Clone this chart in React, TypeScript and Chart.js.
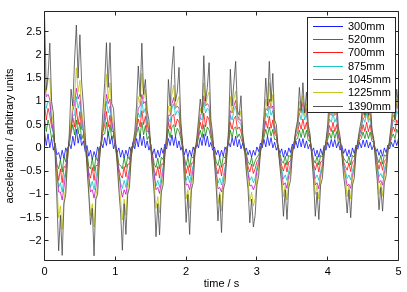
import { useEffect, useRef } from "react";
import { Chart, registerables } from "chart.js";

Chart.register(...registerables);

// sampling step of the recorded traces (seconds)
const SAMPLE_STEP = 0.025;

const SERIES_LABELS = ["300mm", "520mm", "700mm", "875mm", "1045mm", "1225mm", "1390mm"];
const SERIES_COLORS = [
  "rgb(0,0,255)",
  "rgb(0,128,0)",
  "rgb(255,0,0)",
  "rgb(0,191,191)",
  "rgb(191,0,191)",
  "rgb(191,191,0)",
  "rgb(64,64,64)",
];

const X_TICKS = [0, 1, 2, 3, 4, 5];
const Y_TICKS = [-2, -1.5, -1, -0.5, 0, 0.5, 1, 1.5, 2, 2.5];
const X_MIN = 0;
const X_MAX = 5;
const Y_MIN = -2.42;
const Y_MAX = 2.93;

const acc300 = [
  0.35, 0.05, 0.3, 0.0, 0.2, -0.05, 0.1, -0.15, -0.1, -0.25,
  -0.05, -0.22, 0.0, -0.1, 0.1, -0.02, 0.25, 0.05, 0.4, 0.1,
  0.3, 0.05, 0.15, -0.08, 0.05, -0.18, -0.05, -0.25, -0.08, -0.2,
  0.02, -0.1, 0.12, 0.0, 0.22, 0.05, 0.35, 0.08, 0.25, -0.02,
  0.12, -0.1, 0.0, -0.2, -0.05, -0.22, -0.05, -0.18, 0.02, -0.08,
  0.12, -0.02, 0.2, 0.02, 0.3, 0.05, 0.25, 0.0, 0.15, -0.05,
  0.08, -0.15, -0.02, -0.22, -0.05, -0.2, 0.0, -0.12, 0.08, -0.02,
  0.2, 0.05, 0.28, 0.05, 0.25, 0.0, 0.15, -0.05, 0.05, -0.15,
  -0.02, -0.2, -0.05, -0.18, 0.02, -0.1, 0.1, 0.0, 0.22, 0.05,
  0.3, 0.05, 0.25, 0.02, 0.12, -0.05, 0.02, -0.15, -0.05, -0.2,
  -0.05, -0.18, 0.02, -0.08, 0.12, 0.02, 0.22, 0.05, 0.25, 0.02,
  0.18, -0.02, 0.1, -0.08, 0.0, -0.15, -0.05, -0.2, -0.05, -0.16,
  0.02, -0.08, 0.1, 0.0, 0.18, 0.02, 0.25, 0.05, 0.22, 0.0,
  0.12, -0.05, 0.05, -0.12, -0.02, -0.2, -0.05, -0.18, 0.0, -0.1,
  0.08, -0.02, 0.15, 0.0, 0.2, 0.02, 0.2, 0.0, 0.15, -0.02,
  0.08, -0.08, 0.0, -0.18, -0.05, -0.2, -0.02, -0.15, 0.05, -0.05,
  0.12, 0.0, 0.18, 0.02, 0.18, 0.0, 0.12, -0.05, 0.05, -0.12,
  -0.02, -0.18, -0.04, -0.19, 0.0, -0.12, 0.06, -0.03, 0.12, 0.0,
  0.17, 0.02, 0.17, 0.0, 0.12, -0.04, 0.06, -0.1, -0.02, -0.16,
  -0.04, -0.18, 0.0, -0.1, 0.06, -0.02, 0.12, 0.02, 0.18, 0.05,
  0.2,
];

const acc520 = [
  0.65, 0.35, 0.6, 0.45, 0.2, 0.3, -0.05, -0.35, -0.45, -0.25,
  -0.52, -0.2, -0.3, 0.0, 0.05, 0.32, 0.5, 0.28, 0.6, 0.3,
  0.55, 0.18, 0.3, -0.02, -0.1, -0.4, -0.45, -0.22, -0.5, -0.2,
  -0.28, 0.02, 0.05, 0.28, 0.3, 0.55, 0.25, 0.5, 0.18, 0.28,
  -0.02, -0.08, -0.35, -0.38, -0.45, -0.2, -0.42, -0.18, -0.25, 0.02,
  0.0, 0.12, 0.3, 0.45, 0.25, 0.55, 0.28, 0.48, 0.18, 0.25,
  -0.02, -0.12, -0.35, -0.42, -0.22, -0.45, -0.2, -0.25, 0.02, 0.08,
  0.4, 0.22, 0.45, 0.5, 0.25, 0.42, 0.35, 0.2, -0.02, -0.2,
  -0.38, -0.2, -0.42, -0.18, -0.22, 0.02, 0.03, 0.22, 0.38, 0.22,
  0.5, 0.25, 0.45, 0.38, 0.2, 0.08, -0.1, -0.3, -0.38, -0.2,
  -0.42, -0.18, -0.22, 0.02, 0.1, 0.38, 0.22, 0.42, 0.45, 0.22,
  0.3, 0.2, 0.1, -0.02, -0.12, -0.3, -0.36, -0.2, -0.4, -0.28,
  -0.2, -0.15, 0.02, 0.05, 0.22, 0.4, 0.25, 0.45, 0.25, 0.4,
  0.18, 0.18, -0.02, -0.12, -0.28, -0.33, -0.18, -0.37, -0.16, -0.2,
  0.02, 0.04, 0.18, 0.2, 0.38, 0.22, 0.41, 0.22, 0.38, 0.16,
  0.15, -0.05, -0.25, -0.33, -0.18, -0.37, -0.16, -0.2, 0.02, 0.04,
  0.18, 0.32, 0.2, 0.38, 0.2, 0.35, 0.12, 0.12, -0.04, -0.22,
  -0.28, -0.33, -0.18, -0.37, -0.16, -0.2, 0.02, 0.04, 0.16, 0.2,
  0.34, 0.2, 0.36, 0.2, 0.34, 0.14, 0.12, -0.04, -0.22, -0.32,
  -0.16, -0.35, -0.15, -0.18, 0.02, 0.05, 0.2, 0.3, 0.2, 0.4,
  0.3,
];

const acc700 = [
  0.95, 0.6, 0.85, 0.7, 0.45, 0.35, 0.0, -0.45, -0.7, -0.45,
  -0.75, -0.4, -0.42, -0.05, 0.12, 0.4, 0.65, 0.45, 0.85, 0.5,
  0.78, 0.4, 0.38, 0.05, -0.18, -0.52, -0.65, -0.42, -0.7, -0.38,
  -0.38, -0.05, 0.1, 0.35, 0.5, 0.78, 0.45, 0.7, 0.35, 0.35,
  0.05, -0.15, -0.45, -0.58, -0.65, -0.4, -0.62, -0.35, -0.35, -0.05,
  0.05, 0.15, 0.4, 0.62, 0.45, 0.8, 0.5, 0.68, 0.35, 0.35,
  0.05, -0.2, -0.48, -0.6, -0.4, -0.65, -0.35, -0.35, -0.03, 0.12,
  0.55, 0.4, 0.68, 0.72, 0.45, 0.62, 0.55, 0.3, 0.05, -0.28,
  -0.55, -0.38, -0.6, -0.33, -0.32, -0.03, 0.08, 0.3, 0.55, 0.4,
  0.75, 0.45, 0.68, 0.6, 0.3, 0.15, -0.15, -0.42, -0.56, -0.38,
  -0.6, -0.35, -0.33, -0.03, 0.15, 0.55, 0.4, 0.62, 0.68, 0.4,
  0.45, 0.35, 0.15, 0.0, -0.2, -0.4, -0.52, -0.35, -0.55, -0.45,
  -0.3, -0.25, -0.02, 0.1, 0.32, 0.58, 0.42, 0.68, 0.42, 0.6,
  0.3, 0.25, 0.0, -0.2, -0.38, -0.5, -0.32, -0.52, -0.3, -0.28,
  -0.02, 0.08, 0.25, 0.32, 0.55, 0.4, 0.62, 0.4, 0.55, 0.28,
  0.2, -0.08, -0.35, -0.48, -0.32, -0.52, -0.3, -0.28, -0.02, 0.08,
  0.25, 0.48, 0.35, 0.55, 0.35, 0.5, 0.22, 0.15, -0.06, -0.3,
  -0.4, -0.48, -0.32, -0.51, -0.3, -0.27, -0.02, 0.08, 0.22, 0.3,
  0.5, 0.35, 0.55, 0.35, 0.5, 0.25, 0.15, -0.08, -0.3, -0.46,
  -0.3, -0.48, -0.28, -0.25, 0.0, 0.1, 0.28, 0.45, 0.35, 0.6,
  0.5,
];

const acc875 = [
  1.2, 0.85, 1.0, 0.95, 0.5, 0.3, 0.0, -0.45, -0.85, -0.75,
  -0.95, -0.65, -0.5, -0.12, 0.15, 0.45, 0.7, 0.7, 1.1, 0.85,
  1.0, 0.55, 0.35, 0.05, -0.25, -0.6, -0.85, -0.72, -0.9, -0.65,
  -0.45, -0.1, 0.1, 0.4, 0.65, 1.0, 0.75, 0.9, 0.5, 0.35,
  0.05, -0.2, -0.5, -0.75, -0.87, -0.7, -0.85, -0.6, -0.45, -0.1,
  0.05, 0.2, 0.45, 0.75, 0.65, 1.0, 0.75, 0.85, 0.5, 0.35,
  0.05, -0.28, -0.55, -0.82, -0.7, -0.85, -0.6, -0.42, -0.08, 0.15,
  0.65, 0.55, 0.85, 0.95, 0.7, 0.8, 0.75, 0.35, 0.05, -0.35,
  -0.7, -0.6, -0.75, -0.55, -0.38, -0.08, 0.1, 0.4, 0.65, 0.6,
  0.98, 0.75, 0.85, 0.8, 0.35, 0.15, -0.22, -0.5, -0.76, -0.65,
  -0.8, -0.6, -0.42, -0.08, 0.2, 0.7, 0.6, 0.8, 0.9, 0.6,
  0.55, 0.5, 0.2, 0.0, -0.25, -0.5, -0.7, -0.62, -0.75, -0.65,
  -0.42, -0.3, -0.05, 0.12, 0.4, 0.75, 0.65, 0.9, 0.7, 0.8,
  0.4, 0.28, 0.0, -0.25, -0.45, -0.67, -0.58, -0.7, -0.5, -0.35,
  -0.05, 0.1, 0.3, 0.42, 0.75, 0.6, 0.84, 0.6, 0.75, 0.35,
  0.2, -0.1, -0.4, -0.66, -0.58, -0.7, -0.5, -0.35, -0.05, 0.1,
  0.3, 0.62, 0.55, 0.75, 0.55, 0.65, 0.28, 0.15, -0.08, -0.35,
  -0.5, -0.66, -0.58, -0.69, -0.48, -0.35, -0.05, 0.1, 0.28, 0.4,
  0.65, 0.55, 0.75, 0.55, 0.65, 0.3, 0.15, -0.1, -0.35, -0.62,
  -0.55, -0.65, -0.45, -0.32, -0.02, 0.12, 0.35, 0.6, 0.55, 0.8,
  0.7,
];

const acc1045 = [
  1.4, 1.1, 1.15, 1.05, 0.6, 0.35, -0.05, -0.55, -0.95, -0.95,
  -1.12, -0.85, -0.55, -0.2, 0.15, 0.45, 0.8, 0.95, 1.28, 1.05,
  1.15, 0.7, 0.4, 0.05, -0.3, -0.65, -0.95, -0.9, -1.08, -0.85,
  -0.55, -0.15, 0.1, 0.4, 0.75, 1.15, 0.95, 1.05, 0.6, 0.35,
  0.05, -0.25, -0.55, -0.85, -1.06, -0.9, -1.0, -0.75, -0.5, -0.15,
  0.05, 0.2, 0.5, 0.85, 0.9, 1.15, 0.95, 1.0, 0.6, 0.35,
  0.05, -0.3, -0.6, -0.9, -0.85, -0.98, -0.75, -0.5, -0.1, 0.15,
  0.7, 0.7, 0.95, 1.08, 0.85, 0.9, 0.85, 0.4, 0.05, -0.4,
  -0.8, -0.78, -0.9, -0.7, -0.45, -0.1, 0.1, 0.4, 0.7, 0.75,
  1.12, 0.9, 0.95, 0.9, 0.4, 0.15, -0.25, -0.55, -0.88, -0.85,
  -0.95, -0.75, -0.5, -0.12, 0.25, 0.8, 0.75, 0.9, 1.02, 0.7,
  0.6, 0.6, 0.2, 0.0, -0.3, -0.55, -0.82, -0.8, -0.9, -0.8,
  -0.5, -0.35, -0.08, 0.12, 0.45, 0.85, 0.8, 1.05, 0.85, 0.9,
  0.45, 0.3, 0.0, -0.3, -0.55, -0.8, -0.75, -0.87, -0.6, -0.45,
  -0.08, 0.1, 0.35, 0.5, 0.85, 0.75, 0.98, 0.75, 0.85, 0.4,
  0.2, -0.12, -0.45, -0.8, -0.75, -0.88, -0.6, -0.42, -0.08, 0.1,
  0.35, 0.75, 0.7, 0.9, 0.7, 0.75, 0.3, 0.15, -0.1, -0.4,
  -0.6, -0.82, -0.78, -0.87, -0.6, -0.42, -0.08, 0.1, 0.3, 0.45,
  0.8, 0.65, 0.9, 0.65, 0.8, 0.35, 0.15, -0.15, -0.45, -0.75,
  -0.7, -0.8, -0.55, -0.38, -0.05, 0.12, 0.4, 0.7, 0.65, 0.95,
  0.8,
];

const acc1225 = [
  1.88, 1.2, 1.45, 1.5, 0.8, 0.5, -0.05, -0.75, -1.5, -1.25,
  -1.75, -1.1, -0.85, -0.25, 0.15, 0.6, 0.95, 1.1, 1.72, 1.2,
  1.45, 0.8, 0.5, 0.1, -0.4, -0.9, -1.45, -1.2, -1.7, -1.05,
  -0.8, -0.25, 0.1, 0.5, 0.95, 1.58, 1.05, 1.4, 0.7, 0.5,
  0.1, -0.3, -0.75, -1.1, -1.55, -1.1, -1.45, -0.9, -0.7, -0.2,
  0.05, 0.25, 0.6, 1.1, 0.95, 1.6, 1.05, 1.25, 0.65, 0.45,
  0.05, -0.4, -0.8, -1.3, -1.05, -1.4, -0.85, -0.65, -0.15, 0.2,
  0.9, 0.75, 1.15, 1.35, 0.85, 1.0, 1.1, 0.45, 0.1, -0.5,
  -1.1, -0.9, -1.3, -0.8, -0.6, -0.1, 0.15, 0.45, 0.85, 0.7,
  1.4, 0.9, 1.1, 1.2, 0.45, 0.2, -0.25, -0.65, -1.2, -0.95,
  -1.36, -0.8, -0.6, -0.15, 0.3, 1.1, 0.75, 1.05, 1.22, 0.65,
  0.6, 0.8, 0.25, 0.0, -0.4, -0.7, -1.15, -0.95, -1.25, -1.1,
  -0.65, -0.45, -0.1, 0.15, 0.55, 1.05, 0.8, 1.4, 0.85, 1.15,
  0.5, 0.35, 0.0, -0.35, -0.65, -1.05, -0.8, -1.12, -0.7, -0.55,
  -0.1, 0.1, 0.35, 0.5, 1.0, 0.75, 1.12, 0.7, 0.95, 0.4,
  0.25, -0.15, -0.55, -1.0, -0.8, -1.1, -0.65, -0.5, -0.1, 0.1,
  0.4, 0.9, 0.7, 1.05, 0.7, 0.85, 0.35, 0.2, -0.1, -0.45,
  -0.7, -1.05, -0.8, -1.1, -0.65, -0.5, -0.1, 0.1, 0.35, 0.5,
  0.9, 0.65, 1.05, 0.6, 0.85, 0.35, 0.15, -0.2, -0.55, -1.0,
  -0.75, -1.04, -0.6, -0.45, -0.05, 0.15, 0.45, 0.8, 0.6, 1.05,
  0.85,
];

const acc1390 = [
  2.88, 1.25, 1.55, 2.25, 1.0, 0.75, -0.15, -1.1, -2.21, -1.45,
  -2.31, -1.2, -1.0, -0.25, 0.3, 1.26, 0.9, 1.9, 2.64, 1.5,
  2.43, 1.4, 0.9, 0.3, -0.4, -1.0, -1.65, -1.3, -2.32, -1.1,
  -1.0, -0.3, 0.15, 0.8, 1.4, 2.26, 1.3, 2.26, 0.95, 0.85,
  0.2, -0.3, -0.9, -1.4, -2.2, -1.2, -1.86, -1.0, -0.85, -0.2,
  0.1, 0.35, 0.9, 1.76, 1.1, 2.25, 1.15, 1.47, 0.8, 0.6,
  0.05, -0.5, -1.0, -1.91, -1.2, -1.87, -0.95, -0.8, -0.15, 0.3,
  1.47, 0.9, 1.7, 2.18, 1.0, 1.2, 1.73, 0.6, 0.1, -0.7,
  -1.6, -1.0, -1.86, -0.9, -0.75, -0.1, 0.2, 0.6, 1.05, 0.75,
  1.98, 1.0, 1.3, 1.83, 0.6, 0.3, -0.3, -0.85, -1.57, -1.0,
  -1.82, -0.9, -0.75, -0.2, 0.4, 1.69, 0.9, 1.4, 1.86, 0.8,
  0.7, 1.12, 0.3, 0.0, -0.5, -0.9, -1.61, -1.1, -1.7, -1.45,
  -0.8, -0.6, -0.1, 0.2, 0.7, 1.5, 0.9, 1.86, 1.0, 1.6,
  0.6, 0.5, 0.0, -0.4, -0.8, -1.47, -0.9, -1.54, -0.85, -0.7,
  -0.15, 0.1, 0.4, 0.6, 1.3, 0.8, 1.4, 0.75, 1.2, 0.5,
  0.3, -0.2, -0.7, -1.47, -0.95, -1.54, -0.8, -0.65, -0.15, 0.15,
  0.5, 1.2, 0.75, 1.35, 0.8, 1.1, 0.45, 0.25, -0.15, -0.6,
  -0.9, -1.4, -0.9, -1.5, -0.8, -0.65, -0.1, 0.15, 0.4, 0.6,
  1.15, 0.7, 1.3, 0.7, 1.05, 0.4, 0.2, -0.3, -0.7, -1.33,
  -0.85, -1.36, -0.75, -0.6, -0.1, 0.2, 0.55, 1.0, 0.6, 1.26,
  0.9,
];

const SERIES_VALUES = [acc300, acc520, acc700, acc875, acc1045, acc1225, acc1390];

const FONT_FAMILY = '"Liberation Sans", Arial, Helvetica, sans-serif';
const INK = "#000000";
const FRAME = "#262626";

const fmt = (v: number) => (v < 0 ? "\u2212" + String(-v) : String(v));

const framePlugin = {
  id: "matlabFrame",
  afterDatasetsDraw(chart: any) {
    const { ctx, chartArea: a, scales } = chart;
    ctx.save();
    ctx.strokeStyle = FRAME;
    ctx.lineWidth = 1;
    ctx.beginPath();
    ctx.rect(a.left, a.top, a.right - a.left, a.bottom - a.top);
    ctx.stroke();
    const tick = 4;
    ctx.beginPath();
    for (const v of X_TICKS) {
      const x = Math.round(scales.x.getPixelForValue(v) - 0.5) + 0.5;
      ctx.moveTo(x, a.bottom);
      ctx.lineTo(x, a.bottom - tick);
      ctx.moveTo(x, a.top);
      ctx.lineTo(x, a.top + tick);
    }
    for (const v of Y_TICKS) {
      const y = Math.round(scales.y.getPixelForValue(v) - 0.5) + 0.5;
      ctx.moveTo(a.left, y);
      ctx.lineTo(a.left + tick, y);
      ctx.moveTo(a.right, y);
      ctx.lineTo(a.right - tick, y);
    }
    ctx.stroke();
    ctx.restore();
  },
  afterDraw(chart: any) {
    const { ctx } = chart;
    const box = { x: 307.5, y: 17.5, w: 88, h: 95 };
    ctx.save();
    ctx.fillStyle = "#ffffff";
    ctx.fillRect(box.x, box.y, box.w, box.h);
    ctx.strokeStyle = FRAME;
    ctx.lineWidth = 1;
    ctx.strokeRect(box.x, box.y, box.w, box.h);
    ctx.font = `11px ${FONT_FAMILY}`;
    ctx.textBaseline = "middle";
    ctx.textAlign = "left";
    SERIES_LABELS.forEach((label, i) => {
      const y = Math.round(25.7 + i * 13.3) + 0.5;
      ctx.strokeStyle = SERIES_COLORS[i];
      ctx.lineWidth = 0.9;
      ctx.beginPath();
      ctx.moveTo(313, y);
      ctx.lineTo(343, y);
      ctx.stroke();
      ctx.fillStyle = INK;
      ctx.fillText(label, 348, y);
    });
    ctx.restore();
  },
};

export default function App() {
  const ref = useRef<HTMLCanvasElement | null>(null);

  useEffect(() => {
    const canvas = ref.current;
    if (!canvas) return;
    const n = SERIES_LABELS.length;
    const datasets = SERIES_LABELS.map((label, s) => ({
      label,
      data: SERIES_VALUES[s].map((v, i) => ({ x: i * SAMPLE_STEP, y: v })),
      borderColor: SERIES_COLORS[s],
      backgroundColor: SERIES_COLORS[s],
      borderWidth: 0.75,
      pointRadius: 0,
      tension: 0,
      fill: false,
      order: n - 1 - s,
    }));

    const chart = new Chart(canvas, {
      type: "line",
      data: { datasets },
      plugins: [framePlugin],
      options: {
        animation: false,
        responsive: false,
        maintainAspectRatio: false,
        devicePixelRatio: 1,
        layout: { padding: { left: 0, right: 8.5, top: 11.5, bottom: 0 } },
        plugins: {
          legend: { display: false },
          tooltip: { enabled: false },
        },
        scales: {
          x: {
            type: "linear",
            min: X_MIN,
            max: X_MAX,
            afterBuildTicks: (s: any) => {
              s.ticks = X_TICKS.map((v) => ({ value: v }));
            },
            afterFit: (s: any) => {
              s.height = 31.5;
            },
            grid: { display: false, drawTicks: false },
            border: { display: false },
            ticks: {
              padding: 5,
              maxRotation: 0,
              color: INK,
              font: { family: FONT_FAMILY, size: 11 },
              callback: (v: any) => fmt(Number(v)),
            },
            title: {
              display: true,
              text: "time / s",
              color: INK,
              font: { family: FONT_FAMILY, size: 11 },
              padding: { top: 0, bottom: 1 },
            },
          },
          y: {
            type: "linear",
            min: Y_MIN,
            max: Y_MAX,
            afterBuildTicks: (s: any) => {
              s.ticks = Y_TICKS.map((v) => ({ value: v }));
            },
            afterFit: (s: any) => {
              s.width = 44.5;
            },
            grid: { display: false, drawTicks: false },
            border: { display: false },
            ticks: {
              padding: 3,
              color: INK,
              font: { family: FONT_FAMILY, size: 11 },
              callback: (v: any) => fmt(Number(v)),
            },
            title: {
              display: true,
              text: "acceleration / arbitrary units",
              color: INK,
              font: { family: FONT_FAMILY, size: 11 },
              padding: { top: 3.7, bottom: 0 },
            },
          },
        },
      },
    });
    return () => chart.destroy();
  }, []);

  return (
    <div style={{ position: "fixed", left: 0, top: 0, width: 407, height: 292, background: "#ffffff" }}>
      <canvas ref={ref} width={407} height={292} style={{ display: "block", width: 407, height: 292 }} />
    </div>
  );
}
